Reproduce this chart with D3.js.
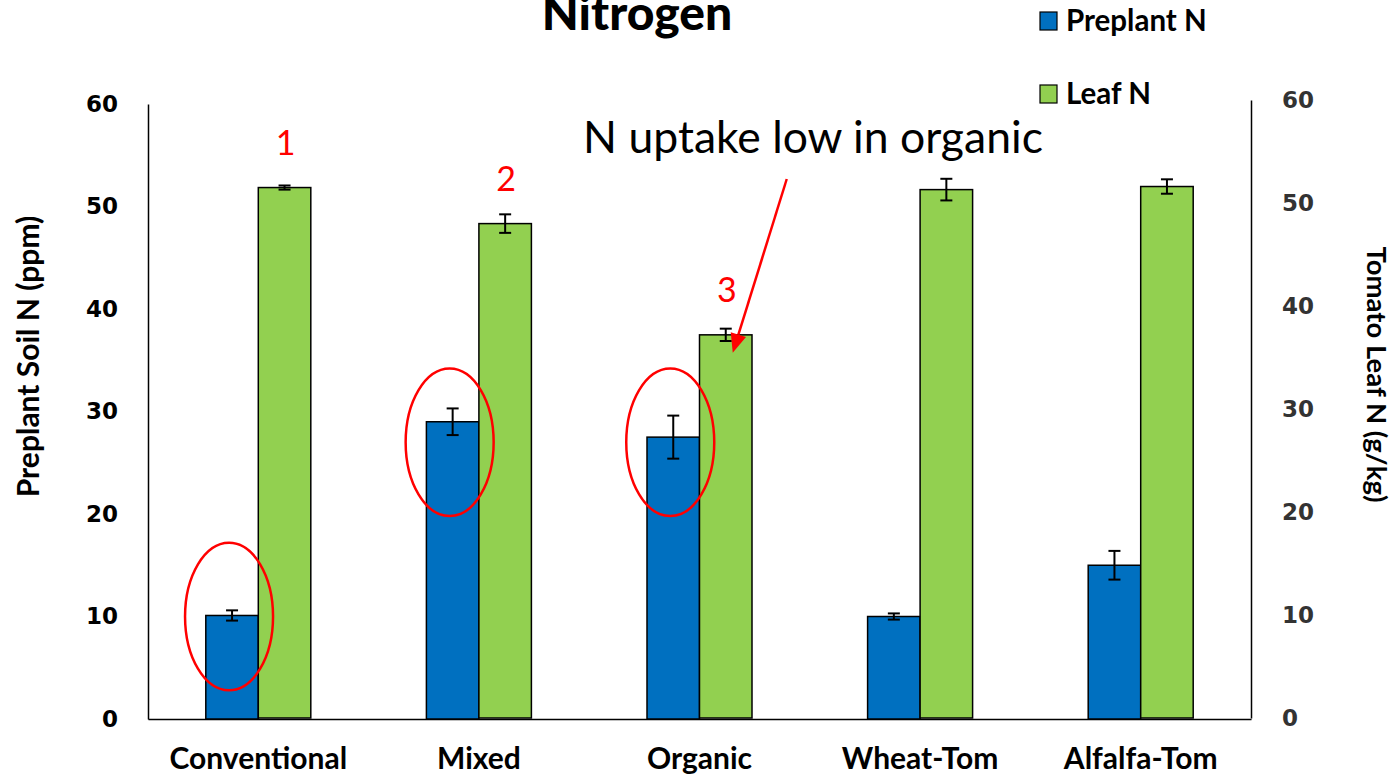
<!DOCTYPE html>
<html>
<head>
<meta charset="utf-8">
<script src="https://cdn.jsdelivr.net/npm/d3@7"></script>
<style>
  body { margin: 0; background: #fff; }
  svg { display: block; }
  .axis path, .axis line { stroke: #000; }
</style>
</head>
<body>
<svg id="chart"></svg>
<script>
// data
const categories = ['Conventional', 'Mixed', 'Organic', 'Wheat-Tom', 'Alfalfa-Tom'];
const seriesNames = ['Preplant N', 'Leaf N'];
const preplantN = [10.1, 29.0, 27.5, 10.0, 15.0];
const preplantErr = [0.5, 1.3, 2.1, 0.3, 1.4];
const leafN = [51.5, 48.0, 37.2, 51.3, 51.6];
const leafErr = [0.2, 0.9, 0.6, 1.05, 0.7];
const leftTicks = [0, 10, 20, 30, 40, 50, 60];
const rightTicks = [0, 10, 20, 30, 40, 50, 60];

// annotations: circled treatments (value = centre of ring on left axis) and numbered leaf bars
const circled = [
  { cat: 'Conventional', v: 10.0, r: 7.2 },
  { cat: 'Mixed', v: 27.0, r: 7.2 },
  { cat: 'Organic', v: 27.0, r: 7.2 }
];
const numbered = [
  { cat: 'Conventional', label: '1' },
  { cat: 'Mixed', label: '2' },
  { cat: 'Organic', label: '3' }
];
const noteText = 'N uptake low in organic';
const noteCat = 'Organic';

const W = 1396, H = 777;
const plot = { left: 148, right: 1251, top: 104, bottom: 719 };
const calibri = 'Lato, "Open Sans", sans-serif';
const verdana = '"DejaVu Sans", Verdana, sans-serif';

const svg = d3.select('#chart').attr('width', W).attr('height', H);

const x = d3.scaleBand()
  .domain(categories)
  .range([plot.left, plot.right]);
const bw = 52.5;
const x1 = d3.scaleBand()
  .domain(seriesNames)
  .range([x.bandwidth() / 2 - bw, x.bandwidth() / 2 + bw]);
const yL = d3.scaleLinear().domain([0, 60]).range([plot.bottom, plot.top]);
const yR = d3.scaleLinear().domain([0, 60]).range([plot.bottom - 1, plot.top - 4]);

// axes (no tick marks, just lines and labels)
const leftAxis = svg.append('g')
  .attr('class', 'axis')
  .attr('transform', `translate(${plot.left},0)`)
  .call(d3.axisLeft(yL).tickValues(leftTicks).tickSize(0).tickPadding(30));
leftAxis.select('.domain').attr('stroke-width', 1.5);
leftAxis.selectAll('text')
  .attr('font-family', verdana).attr('font-weight', 'bold').attr('font-size', 23).attr('fill', '#000');

const rightAxis = svg.append('g')
  .attr('class', 'axis')
  .attr('transform', `translate(${plot.right},0)`)
  .call(d3.axisRight(yR).tickValues(rightTicks).tickSize(0).tickPadding(31));
rightAxis.select('.domain').attr('stroke-width', 1.5);
rightAxis.selectAll('text')
  .attr('font-family', verdana).attr('font-weight', 'bold').attr('font-size', 23).attr('fill', '#333');

const xAxis = svg.append('g')
  .attr('class', 'axis')
  .attr('transform', `translate(0,${plot.bottom})`)
  .call(d3.axisBottom(x).tickSize(0).tickPadding(29));
xAxis.select('.domain').attr('stroke', '#999').attr('stroke-width', 1.5);
xAxis.selectAll('text')
  .attr('font-family', calibri).attr('font-weight', 'bold').attr('font-size', 30).attr('fill', '#000')
  .attr('dy', '0.71em');

// bars
const rows = categories.map((c, i) => ({
  cat: c,
  vals: [
    { s: 'Preplant N', v: preplantN[i], e: preplantErr[i], y: yL, color: '#0070C0' },
    { s: 'Leaf N', v: leafN[i], e: leafErr[i], y: yR, color: '#92D050' }
  ]
}));

const groups = svg.append('g').selectAll('g')
  .data(rows)
  .join('g')
  .attr('transform', d => `translate(${x(d.cat)},0)`);

groups.selectAll('rect')
  .data(d => d.vals)
  .join('rect')
  .attr('x', d => x1(d.s))
  .attr('width', x1.bandwidth())
  .attr('y', d => d.y(d.v))
  .attr('height', d => d.y(0) - d.y(d.v))
  .attr('fill', d => d.color)
  .attr('stroke', '#000')
  .attr('stroke-width', 1.5);

// error bars
const err = groups.selectAll('g.err')
  .data(d => d.vals)
  .join('g')
  .attr('class', 'err')
  .attr('stroke', '#000')
  .attr('stroke-width', 2);
const cx = d => x1(d.s) + x1.bandwidth() / 2;
err.append('line')
  .attr('x1', cx).attr('x2', cx)
  .attr('y1', d => d.y(d.v + d.e)).attr('y2', d => d.y(d.v - d.e));
err.append('line')
  .attr('x1', d => cx(d) - 6).attr('x2', d => cx(d) + 6)
  .attr('y1', d => d.y(d.v + d.e)).attr('y2', d => d.y(d.v + d.e));
err.append('line')
  .attr('x1', d => cx(d) - 6).attr('x2', d => cx(d) + 6)
  .attr('y1', d => d.y(d.v - d.e)).attr('y2', d => d.y(d.v - d.e));

// title
svg.append('text')
  .attr('x', 637).attr('y', 30)
  .attr('text-anchor', 'middle')
  .attr('font-family', calibri).attr('font-weight', 900).attr('font-size', 48)
  .text('Nitrogen');

// legend
const legend = svg.append('g').selectAll('g')
  .data(seriesNames)
  .join('g')
  .attr('transform', (d, i) => `translate(1040,${12 + i * 73})`);
legend.append('rect')
  .attr('width', 17).attr('height', 18)
  .attr('fill', (d, i) => i === 0 ? '#0070C0' : '#92D050')
  .attr('stroke', '#000').attr('stroke-width', 1.2);
legend.append('text')
  .attr('x', 26).attr('y', 19)
  .attr('font-family', calibri).attr('font-weight', 'bold').attr('font-size', 29.5)
  .text(d => d);

// axis titles
svg.append('text')
  .attr('transform', `translate(39,${(plot.top + plot.bottom) / 2 - 55}) rotate(-90)`)
  .attr('text-anchor', 'middle')
  .attr('font-family', calibri).attr('font-weight', 'bold').attr('font-size', 30)
  .text('Preplant Soil N (ppm)');
svg.append('text')
  .attr('transform', `translate(1367,${(plot.top + plot.bottom) / 2 - 37}) rotate(90)`)
  .attr('text-anchor', 'middle')
  .attr('font-family', calibri).attr('font-weight', 'bold').attr('font-size', 27.5)
  .text('Tomato Leaf N (g/kg)');

// red rings around preplant bars
const preX = c => x(c) + x1('Preplant N') + x1.bandwidth() / 2 - 3;
svg.append('g').selectAll('ellipse')
  .data(circled)
  .join('ellipse')
  .attr('cx', d => preX(d.cat))
  .attr('cy', d => yL(d.v))
  .attr('rx', 44)
  .attr('ry', d => yL(0) - yL(d.r))
  .attr('fill', 'none')
  .attr('stroke', '#FF0000')
  .attr('stroke-width', 2.5);

// numbers above leaf bars
const leafX = c => x(c) + x1('Leaf N') + x1.bandwidth() / 2;
svg.append('g').selectAll('text')
  .data(numbered)
  .join('text')
  .attr('x', d => leafX(d.cat) + 1)
  .attr('y', d => yR(leafN[categories.indexOf(d.cat)]) - 33)
  .attr('text-anchor', 'middle')
  .attr('font-family', calibri).attr('font-size', 34)
  .attr('fill', '#FF0000')
  .text(d => d.label);

// note and arrow
svg.append('text')
  .attr('x', 813).attr('y', 153)
  .attr('text-anchor', 'middle')
  .attr('font-family', calibri).attr('font-size', 44.5)
  .text(noteText);

const tipX = leafX(noteCat) + 7;
const tipY = yR(leafN[categories.indexOf(noteCat)]) + 18;
const startX = tipX + 54, startY = 179;
const ang = Math.atan2(tipY - startY, tipX - startX);
const hl = 19, hw = 8;
const baseX = tipX - hl * Math.cos(ang), baseY = tipY - hl * Math.sin(ang);
svg.append('line')
  .attr('x1', startX).attr('y1', startY)
  .attr('x2', baseX).attr('y2', baseY)
  .attr('stroke', '#FF0000').attr('stroke-width', 2.5);
svg.append('path')
  .attr('d', d3.line()([
    [tipX, tipY],
    [baseX + hw * Math.sin(ang), baseY - hw * Math.cos(ang)],
    [baseX - hw * Math.sin(ang), baseY + hw * Math.cos(ang)]
  ]) + 'Z')
  .attr('fill', '#FF0000');
</script>
</body>
</html>
